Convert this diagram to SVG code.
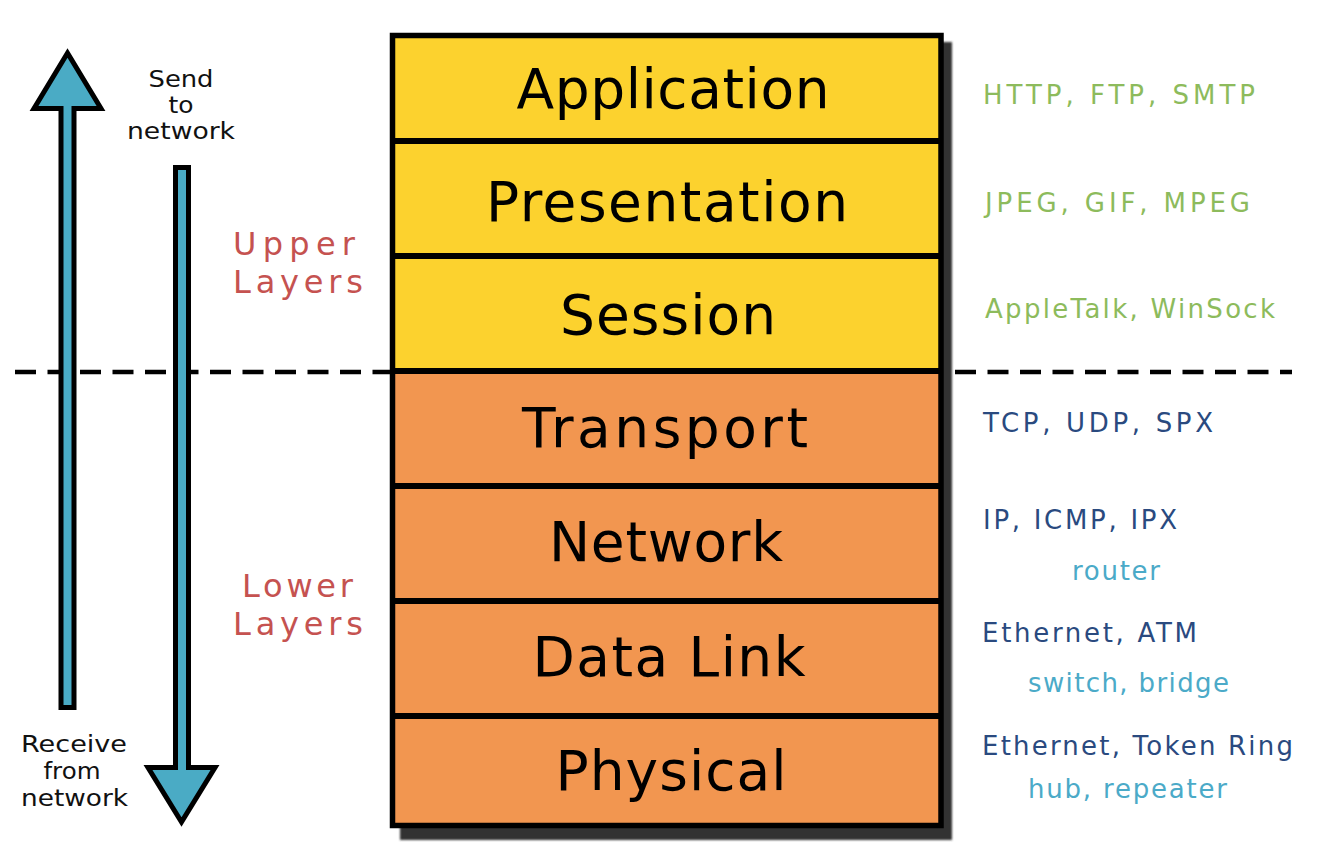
<svg xmlns="http://www.w3.org/2000/svg" width="1328" height="868" viewBox="0 0 1328 868">
<style>
.lt{font-family:"DejaVu Sans","Liberation Sans",sans-serif;font-size:55px;fill:#000;text-anchor:middle}
.sm{font-family:"DejaVu Sans","Liberation Sans",sans-serif;font-size:23px;fill:#111;text-anchor:middle}
.grp{font-family:"DejaVu Sans","Liberation Sans",sans-serif;font-size:32px;fill:#C55250;text-anchor:middle}
.pr{font-family:"DejaVu Sans","Liberation Sans",sans-serif;font-size:26px}
.g{fill:#8DBB5C}
.db{fill:#2A4A7F}
.lb{fill:#4BAAC8}
.up{fill:#FCD22E}
.lo{fill:#F29650}
.div{stroke:#000;stroke-width:6}
.arr{fill:#4AABC5;stroke:#000;stroke-width:5;stroke-linejoin:miter}
.dash{stroke:#000;stroke-width:4.5;stroke-dasharray:21 11.5;fill:none}
</style>
<defs>
<filter id="blur" x="-5%" y="-5%" width="110%" height="110%"><feGaussianBlur stdDeviation="1"/></filter>
</defs>
<rect width="1328" height="868" fill="#fff"/>

<g id="connectors">
<line class="dash" x1="15" y1="372" x2="392" y2="372"/>
<line class="dash" x1="955" y1="372" x2="1292" y2="372"/>
<polygon class="arr" points="67.5,53 101,108.5 74,108.5 74,707.5 61,707.5 61,108.5 34,108.5"/>
<polygon class="arr" points="175.5,167.5 188.5,167.5 188.5,767.5 215,767.5 181.5,822 148,767.5 175.5,767.5"/>
</g>

<g id="send-label">
<text class="sm" x="181" y="87" textLength="65" lengthAdjust="spacingAndGlyphs">Send</text>
<text class="sm" x="181" y="113" textLength="25" lengthAdjust="spacingAndGlyphs">to</text>
<text class="sm" x="181" y="139" textLength="108" lengthAdjust="spacingAndGlyphs">network</text>
</g>
<g id="receive-label">
<text class="sm" x="74" y="752" textLength="106" lengthAdjust="spacingAndGlyphs">Receive</text>
<text class="sm" x="72" y="779" textLength="57" lengthAdjust="spacingAndGlyphs">from</text>
<text class="sm" x="74.5" y="806" textLength="107" lengthAdjust="spacingAndGlyphs">network</text>
</g>

<g id="upper-layers">
<text class="grp" x="294" y="255" textLength="122" lengthAdjust="spacing">Upper</text>
<text class="grp" x="298" y="293" textLength="130" lengthAdjust="spacing">Layers</text>
</g>
<g id="lower-layers">
<text class="grp" x="297.5" y="597" textLength="111" lengthAdjust="spacing">Lower</text>
<text class="grp" x="298" y="635" textLength="130" lengthAdjust="spacing">Layers</text>
</g>

<g id="stack">
<rect x="400" y="42" width="552" height="798" fill="#333" filter="url(#blur)"/>
<rect class="up" x="392.5" y="35.5" width="548.5" height="336"/>
<rect class="lo" x="392.5" y="371" width="548.5" height="454.5"/>
<rect x="392.5" y="35.5" width="548.5" height="790" fill="none" stroke="#000" stroke-width="5.5"/>
</g>

<g id="layer-application">
<text class="lt" x="673" y="108" textLength="313" lengthAdjust="spacing">Application</text>
</g>
<g id="layer-presentation">
<line class="div" x1="392" y1="141" x2="941" y2="141"/>
<text class="lt" x="667" y="221" textLength="362" lengthAdjust="spacing">Presentation</text>
</g>
<g id="layer-session">
<line class="div" x1="392" y1="256" x2="941" y2="256"/>
<text class="lt" x="668" y="334" textLength="216" lengthAdjust="spacing">Session</text>
</g>
<g id="layer-transport">
<line class="div" x1="392" y1="371" x2="941" y2="371"/>
<text class="lt" x="665" y="447" textLength="286" lengthAdjust="spacing">Transport</text>
</g>
<g id="layer-network">
<line class="div" x1="392" y1="486" x2="941" y2="486"/>
<text class="lt" x="666" y="561" textLength="234" lengthAdjust="spacing">Network</text>
</g>
<g id="layer-datalink">
<line class="div" x1="392" y1="601" x2="941" y2="601"/>
<text class="lt" x="669" y="676" textLength="273" lengthAdjust="spacing">Data Link</text>
</g>
<g id="layer-physical">
<line class="div" x1="392" y1="716" x2="941" y2="716"/>
<text class="lt" x="671" y="790" textLength="231" lengthAdjust="spacing">Physical</text>
</g>

<g id="protocols">
<text class="pr g" x="983" y="104" textLength="272" lengthAdjust="spacing">HTTP, FTP, SMTP</text>
<text class="pr g" x="985" y="212" textLength="265" lengthAdjust="spacing">JPEG, GIF, MPEG</text>
<text class="pr g" x="985" y="318" textLength="290" lengthAdjust="spacing">AppleTalk, WinSock</text>
<text class="pr db" x="983" y="432" textLength="230" lengthAdjust="spacing">TCP, UDP, SPX</text>
<text class="pr db" x="983" y="529" textLength="194" lengthAdjust="spacing">IP, ICMP, IPX</text>
<text class="pr lb" x="1072" y="580" textLength="88" lengthAdjust="spacing">router</text>
<text class="pr db" x="982" y="642" textLength="215" lengthAdjust="spacing">Ethernet, ATM</text>
<text class="pr lb" x="1028" y="692" textLength="201" lengthAdjust="spacing">switch, bridge</text>
<text class="pr db" x="982" y="755" textLength="311" lengthAdjust="spacing">Ethernet, Token Ring</text>
<text class="pr lb" x="1028" y="798" textLength="199" lengthAdjust="spacing">hub, repeater</text>
</g>
</svg>
